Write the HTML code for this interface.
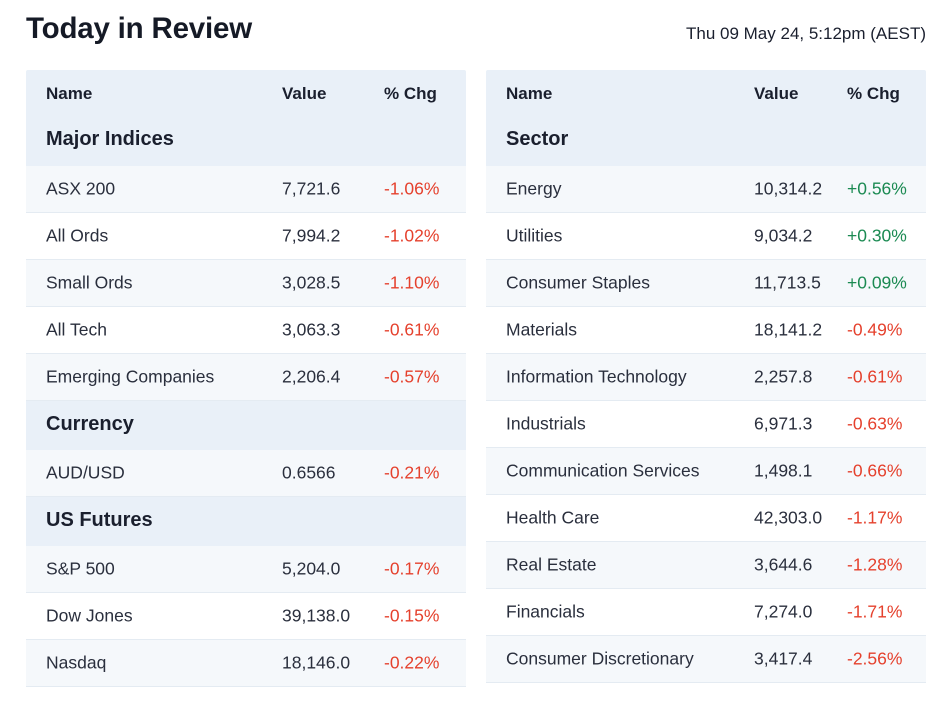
<!DOCTYPE html>
<html><head><meta charset="utf-8"><style>
*{box-sizing:border-box;margin:0;padding:0}
body{width:947px;height:715px;background:#fff;font-family:"Liberation Sans",Arial,sans-serif;color:#2a2f3d;position:relative;overflow:hidden}
.abs{position:absolute}
.title{left:26px;top:12px;font-size:29.5px;font-weight:bold;color:#151a26;letter-spacing:-0.2px}
.date{right:21px;top:24px;font-size:17px;color:#1a1f2e}
.head{background:#e9f0f8;border-radius:2px 2px 0 0}
.hl{font-size:17px;font-weight:bold;color:#1a1f2e}
.sec{font-size:20px;font-weight:bold;color:#1a1f2e}
.row{border-bottom:1px solid #e4ebf2}
.row.alt{background:#f5f8fb}
.row span{position:absolute;top:50%;transform:translateY(-50%);font-size:17.5px;white-space:nowrap}
.neg{color:#e5412d}.pos{color:#1b8a52}
</style></head><body>
<div class="abs title">Today in Review</div>
<div class="abs date">Thu 09 May 24, 5:12pm (AEST)</div>
<div id="root"></div>
<script>
const leftRows=[["h","Major Indices"],["r","ASX 200","7,721.6","-1.06%"],["r","All Ords","7,994.2","-1.02%"],["r","Small Ords","3,028.5","-1.10%"],["r","All Tech","3,063.3","-0.61%"],["r","Emerging Companies","2,206.4","-0.57%"],["h","Currency"],["r","AUD/USD","0.6566","-0.21%"],["h","US Futures"],["r","S&P 500","5,204.0","-0.17%"],["r","Dow Jones","39,138.0","-0.15%"],["r","Nasdaq","18,146.0","-0.22%"]];
const rightRows=[["h","Sector"],["r","Energy","10,314.2","+0.56%"],["r","Utilities","9,034.2","+0.30%"],["r","Consumer Staples","11,713.5","+0.09%"],["r","Materials","18,141.2","-0.49%"],["r","Information Technology","2,257.8","-0.61%"],["r","Industrials","6,971.3","-0.63%"],["r","Communication Services","1,498.1","-0.66%"],["r","Health Care","42,303.0","-1.17%"],["r","Real Estate","3,644.6","-1.28%"],["r","Financials","7,274.0","-1.71%"],["r","Consumer Discretionary","3,417.4","-2.56%"]];
const root=document.getElementById('root');
function build(rows,x,w,cols,name){
  const tbl=document.createElement('div');
  tbl.className='abs';tbl.style.left=x+'px';tbl.style.top='70px';tbl.style.width=w+'px';
  
  
  root.appendChild(tbl);
  let y=0;
  const hdr=document.createElement('div');
  hdr.className='abs head';hdr.style.left='0';hdr.style.top='0';hdr.style.width=w+'px';hdr.style.height='48px';
  
  
  [["Name",cols[0]],["Value",cols[1]],["% Chg",cols[2]]].forEach(c=>{
    const s=document.createElement('div');s.className='abs hl';s.style.left=(c[1]-x)+'px';s.style.top='14px';s.textContent=c[0];
    
    
    hdr.appendChild(s);
  });
  tbl.appendChild(hdr);y=48;
  let alt=true;
  rows.forEach(r=>{
    const d=document.createElement('div');
    if(r[0]==='h'){
      d.className='abs head';d.style.height=(y===48?48:49)+'px';
      d.style.borderRadius='0';
      const t=document.createElement('div');t.className='abs sec';t.style.left=(cols[0]-x)+'px';t.style.top=(y===48?10:12)+'px';t.textContent=r[1];
      
      
      d.appendChild(t);
      
      
      d.style.top=y+'px';d.style.left='0';d.style.width=w+'px';
      y+=(y===48?48:49);alt=true;
    }else{
      d.className='abs row'+(alt?' alt':'');d.style.height='47px';
      d.style.top=y+'px';d.style.left='0';d.style.width=w+'px';
      
      
      const a=document.createElement('span');a.style.left=(cols[0]-x)+'px';a.textContent=r[1];
      
      
      const b=document.createElement('span');b.style.left=(cols[1]-x)+'px';b.textContent=r[2];
      
      
      const c=document.createElement('span');c.style.left=(cols[2]-x)+'px';c.textContent=r[3];c.className=r[3][0]==='+'?'pos':'neg';
      
      
      d.appendChild(a);d.appendChild(b);d.appendChild(c);
      y+=47;alt=!alt;
    }
    tbl.appendChild(d);
  });
}
build(leftRows,26,440,[46,282,384],'market-table-left');
build(rightRows,486,440,[506,754,847],'sector-table-right');
</script>
</body></html>
